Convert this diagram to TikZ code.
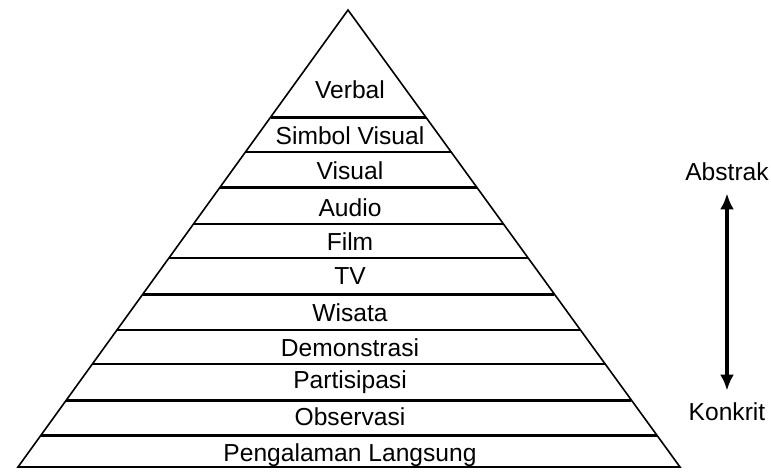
\documentclass[tikz,border=0pt]{standalone}
\usepackage{fontspec}
\setmainfont{Liberation Sans}
\usepackage{tikz}
\usetikzlibrary{arrows.meta, positioning, calc}

\tikzset{
    levellabel/.style={font=\fontsize{12.3}{14}\selectfont, inner sep=1pt},
    sidelabel/.style={font=\fontsize{12.3}{14}\selectfont, inner sep=2pt},
    divider/.style={line width=#1, line cap=butt},
}

\begin{document}
\begin{tikzpicture}[x=0.5pt, y=-0.5pt]
    \useasboundingbox (0,0) rectangle (771,472);

    % outline of the cone
    \coordinate (apex) at (348,10);
    \coordinate (baseleft) at (18,467);
    \coordinate (baseright) at (680,467);
    \draw[line width=0.8pt, line join=miter] (apex) -- (baseleft) -- (baseright) -- cycle;

    % dividers between the levels
    \foreach \yy/\lw in {117/1.5pt, 152/1pt, 187/1.5pt, 224/1pt, 258/1pt,
                         294/1.5pt, 330/1pt, 364/1pt, 400/1.5pt, 435/1.5pt} {
        \pgfmathsetmacro{\pos}{(\yy-10)/457}
        \draw[divider=\lw] ($(apex)!\pos!(baseleft)$) -- ($(apex)!\pos!(baseright)$);
    }

    % level names
    \foreach \name/\yy/\txt in {verbal/90/Verbal, simbol/136/Simbol Visual,
                                visual/171/Visual, audio/208/Audio, film/242/Film,
                                tv/276/TV, wisata/313/Wisata, demo/348/Demonstrasi,
                                partisipasi/382/Partisipasi, observasi/417/Observasi,
                                langsung/455/Pengalaman Langsung} {
        \node[levellabel] (\name) at (350,\yy) {\txt};
    }

    % abstract -- concrete axis
    \node[sidelabel] (abstrak) at (727,172) {Abstrak};
    \node[sidelabel] (konkrit) at (727,412) {Konkrit};
    \draw[{Latex[length=8pt,width=7pt]}-{Latex[length=8pt,width=7pt]}, line width=1.6pt,
          shorten <=4pt, shorten >=4pt] (abstrak.south) -- (konkrit.north);
\end{tikzpicture}
\end{document}
